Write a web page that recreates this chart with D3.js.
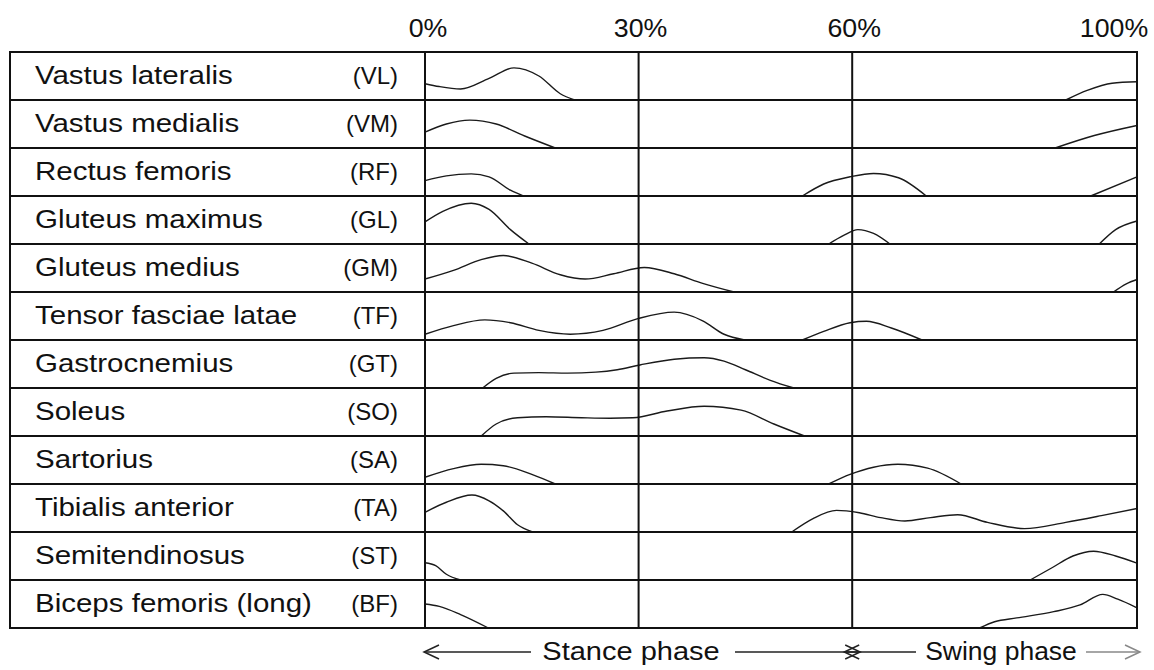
<!DOCTYPE html>
<html>
<head>
<meta charset="utf-8">
<script src="https://cdn.jsdelivr.net/npm/d3@7/dist/d3.min.js"></script>
<style>
  html, body { margin: 0; padding: 0; background: #fff; }
  svg { display: block; }
  text { font-family: "Liberation Sans", Arial, sans-serif; fill: #111; }
</style>
</head>
<body>
<svg id="chart" width="1154" height="670"></svg>
<script>
// Muscles (rows) and their abbreviations
const muscles = [
  "Vastus lateralis", "Vastus medialis", "Rectus femoris", "Gluteus maximus",
  "Gluteus medius", "Tensor fasciae latae", "Gastrocnemius", "Soleus",
  "Sartorius", "Tibialis anterior", "Semitendinosus", "Biceps femoris (long)"
];
const abbreviations = ["(VL)", "(VM)", "(RF)", "(GL)", "(GM)", "(TF)", "(GT)", "(SO)", "(SA)", "(TA)", "(ST)", "(BF)"];

// Gait-cycle ticks (% of cycle)
const cycleTicks = [0, 30, 60, 100];
const tickLabels = ["0%", "30%", "60%", "100%"];
const phaseNames = ["Stance phase", "Swing phase"];
const stanceEnd = 60;

// Activation envelopes: [% of gait cycle, relative activity 0..1] for each burst
const actVL = [
  [[0, 0.34], [2, 0.28], [5, 0.23], [9, 0.45], [12.5, 0.67], [16, 0.5], [19, 0.13], [21, 0]],
  [[90, 0], [93, 0.2], [96.5, 0.35], [100, 0.38]]
];
const actVM = [
  [[0, 0.33], [3, 0.5], [6.3, 0.58], [10, 0.5], [14, 0.25], [18.3, 0]],
  [[88.5, 0], [94, 0.26], [100, 0.47]]
];
const actRF = [
  [[0, 0.32], [3, 0.42], [6.5, 0.46], [9, 0.4], [12, 0.12], [13.8, 0]],
  [[53, 0], [56, 0.25], [59.7, 0.4], [63, 0.47], [66.5, 0.38], [70.4, 0]],
  [[93.5, 0], [100, 0.4]]
];
const actGL = [
  [[0, 0.46], [2.5, 0.68], [6.5, 0.85], [9, 0.72], [12, 0.3], [14.6, 0]],
  [[56.7, 0], [58.8, 0.18], [60.8, 0.3], [63, 0.22], [65.3, 0]],
  [[94.7, 0], [97, 0.3], [100, 0.48]]
];
const actGM = [
  [[0, 0.27], [4, 0.45], [8, 0.68], [11, 0.76], [15, 0.6], [19, 0.36], [22.5, 0.27],
   [26.5, 0.38], [30.8, 0.51], [35, 0.38], [39, 0.18], [43.4, 0]],
  [[96.7, 0], [98.5, 0.17], [100, 0.26]]
];
const actTF = [
  [[0, 0.12], [4, 0.3], [8.4, 0.42], [12, 0.36], [16, 0.2], [20.4, 0.12], [25, 0.2],
   [30, 0.45], [35, 0.58], [39, 0.4], [42, 0.12], [44.9, 0]],
  [[53, 0], [56, 0.18], [59.7, 0.36], [62, 0.39], [65.5, 0.25], [69.8, 0]]
];
const actGT = [
  [[8.1, 0], [10, 0.2], [12.5, 0.31], [16, 0.32], [20, 0.31], [24, 0.33], [27, 0.38],
   [30.2, 0.48], [35, 0.6], [39.2, 0.63], [42, 0.56], [45, 0.38], [48.5, 0.16], [51.8, 0]]
];
const actSO = [
  [[7.9, 0], [10, 0.25], [13, 0.38], [17, 0.4], [22, 0.38], [26, 0.37], [29.2, 0.38],
   [34, 0.52], [39.2, 0.62], [44.4, 0.54], [49, 0.25], [53.3, 0]]
];
const actSA = [
  [[0, 0.14], [4, 0.32], [7.9, 0.41], [11, 0.38], [15, 0.2], [18.3, 0]],
  [[56.7, 0], [59.7, 0.2], [63, 0.35], [66.4, 0.41], [70.6, 0.33], [75.3, 0]]
];
const actTA = [
  [[0, 0.41], [3, 0.62], [6.6, 0.77], [9, 0.65], [11, 0.44], [13, 0.15], [15.1, 0]],
  [[51.5, 0], [54.5, 0.28], [57.8, 0.45], [61, 0.4], [64, 0.3], [67.4, 0.23], [71, 0.3],
   [74.8, 0.36], [79, 0.2], [84.2, 0.07], [90, 0.2], [95, 0.34], [100, 0.49]]
];
const actST = [
  [[0, 0.36], [1.5, 0.3], [3, 0.12], [5, 0]],
  [[85, 0], [88, 0.25], [91, 0.5], [93.9, 0.6], [97, 0.5], [100, 0.35]]
];
const actBF = [
  [[0, 0.5], [2, 0.45], [5, 0.28], [8.9, 0]],
  [[77.9, 0], [80, 0.13], [83.1, 0.21], [88.3, 0.34], [92, 0.48], [95.2, 0.7], [97.3, 0.6], [100, 0.42]]
];
const activations = [actVL, actVM, actRF, actGL, actGM, actTF, actGT, actSO, actSA, actTA, actST, actBF];

// Layout
const tableLeft = 10, gridLeft = 425, gridRight = 1137, tableTop = 52, tableBottom = 628;

const svg = d3.select("#chart");
svg.append("rect").attr("width", 1154).attr("height", 670).attr("fill", "#fff");

const x = d3.scaleLinear().domain([0, 100]).range([gridLeft, gridRight]);
const y = d3.scaleBand().domain(muscles).range([tableTop, tableBottom]);
const amp = d3.scaleLinear().domain([0, 1]).range([0, y.bandwidth()]);

// Horizontally widened text (the figure's lettering is a little broad)
function wideText(g, tx, ty, str, size, sx, anchor) {
  return g.append("text")
    .attr("transform", `translate(${tx},${ty}) scale(${sx},1)`)
    .attr("font-size", size)
    .attr("text-anchor", anchor || "start")
    .text(str);
}

// Activation curves
const line = d3.line()
  .x(d => x(d[0]))
  .curve(d3.curveMonotoneX);

const curves = svg.append("g").attr("fill", "none").attr("stroke", "#1a1a1a").attr("stroke-width", 1.4);
muscles.forEach((m, i) => {
  const base = y(m) + y.bandwidth();
  activations[i].forEach(seg => {
    curves.append("path")
      .attr("d", line.y(d => base - amp(d[1]))(seg));
  });
});

// Table grid
const grid = svg.append("g").attr("stroke", "#111").attr("stroke-width", 2).attr("fill", "none");
grid.append("rect")
  .attr("x", tableLeft).attr("y", tableTop)
  .attr("width", gridRight - tableLeft).attr("height", tableBottom - tableTop);
muscles.slice(1).forEach(m => {
  grid.append("line")
    .attr("x1", tableLeft).attr("x2", gridRight)
    .attr("y1", y(m)).attr("y2", y(m));
});
cycleTicks.slice(0, -1).forEach(t => {
  grid.append("line")
    .attr("x1", x(t)).attr("x2", x(t))
    .attr("y1", tableTop).attr("y2", tableBottom);
});

// Top axis labels
const labelShift = [3, 2, 2, -23];
const ticksG = svg.append("g");
cycleTicks.forEach((t, i) => wideText(ticksG, x(t) + labelShift[i], 37, tickLabels[i], 25, 1.07, "middle"));

// Row labels
const rowText = svg.append("g");
muscles.forEach((m, i) => {
  const cy = y(m) + y.bandwidth() / 2 + 8;
  wideText(rowText, 35, cy, m, 25, 1.18, "start");
  wideText(rowText, 398, cy, abbreviations[i], 24, 1, "end");
});

// Phase arrows along the bottom
const arrowY = 652;
const phases = svg.append("g").attr("fill", "none").attr("stroke-width", 1.5);
function arrow(x1, x2, tipX, dir, color) {
  phases.append("line").attr("x1", x1).attr("x2", x2).attr("y1", arrowY).attr("y2", arrowY).attr("stroke", color);
  phases.append("path")
    .attr("d", `M${tipX - dir * 15},${arrowY - 7}L${tipX},${arrowY}L${tipX - dir * 15},${arrowY + 7}`)
    .attr("stroke", color);
}
arrow(x(0), 531, x(0) - 1, -1, "#222");
arrow(735, x(stanceEnd) + 8, x(stanceEnd) + 8, 1, "#222");
arrow(x(stanceEnd) - 8, 916, x(stanceEnd) - 8, -1, "#222");
arrow(1086, x(100) + 3, x(100) + 3, 1, "#888");

const phaseText = svg.append("g");
wideText(phaseText, 631, arrowY + 8, phaseNames[0], 25, 1.16, "middle");
wideText(phaseText, 1001, arrowY + 8, phaseNames[1], 25, 1.06, "middle");
</script>
</body>
</html>
